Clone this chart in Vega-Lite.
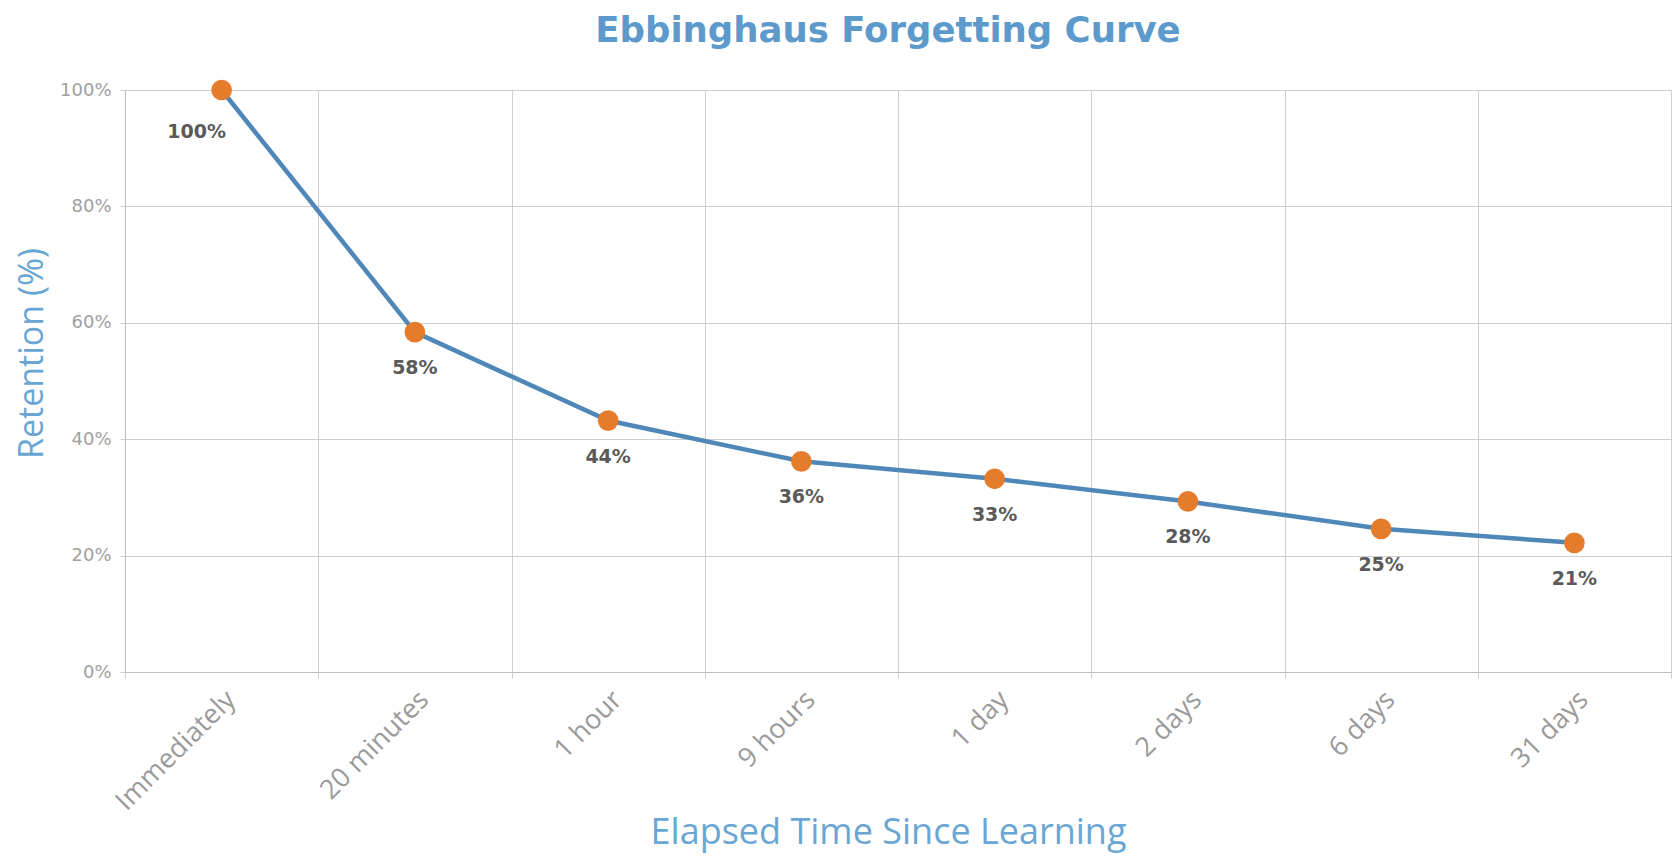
{
  "$schema": "https://vega.github.io/schema/vega-lite/v6.json",
  "width": 1546,
  "height": 582,
  "autosize": "none",
  "padding": {"left": 125, "top": 90, "right": 6, "bottom": 186},
  "background": "white",
  "config": {
    "view": {"stroke": "#cfcfcf", "strokeWidth": 1},
    "font": "Open Sans"
  },
  "title": {
    "text": "Ebbinghaus Forgetting Curve",
    "font": "DejaVu Sans",
    "fontSize": 35.5,
    "fontWeight": "bold",
    "color": "#5d9acb",
    "anchor": "middle",
    "offset": 30,
    "dx": -10
  },
  "data": {
    "values": [
      {"time": "Immediately", "retention": 100, "label": "100%"},
      {"time": "20 minutes", "retention": 58.4, "label": "58%"},
      {"time": "1 hour", "retention": 43.2, "label": "44%"},
      {"time": "9 hours", "retention": 36.2, "label": "36%"},
      {"time": "1 day", "retention": 33.2, "label": "33%"},
      {"time": "2 days", "retention": 29.3, "label": "28%"},
      {"time": "6 days", "retention": 24.6, "label": "25%"},
      {"time": "31 days", "retention": 22.2, "label": "21%"}
    ]
  },
  "encoding": {
    "x": {
      "field": "time",
      "type": "ordinal",
      "sort": null,
      "scale": {"type": "band", "paddingInner": 0, "paddingOuter": 0},
      "axis": {
        "title": "Elapsed Time Since Learning",
        "titleFont": "Open Sans",
        "titleFontSize": 36,
        "titleFontWeight": "normal",
        "titleColor": "#6aa6d3",
        "titleX": 763,
        "titleY": 160,
        "titleBaseline": "middle",
        "titleAnchor": null,
        "labelAngle": -45,
        "labelFont": "Open Sans",
        "labelFontSize": 27,
        "labelColor": "#9a9a9a",
        "labelPadding": 8,
        "tickBand": "extent",
        "grid": true,
        "gridColor": "#cfcfcf",
        "domainColor": "#bdbdbd",
        "tickColor": "#cfcfcf",
        "tickSize": 6
      }
    },
    "y": {
      "field": "retention",
      "type": "quantitative",
      "scale": {"domain": [0, 100], "nice": false},
      "axis": {
        "title": "Retention (%)",
        "titleFont": "Open Sans",
        "titleFontSize": 34,
        "titleFontWeight": "normal",
        "titleColor": "#6aa6d3",
        "titleX": -93,
        "titleY": 263,
        "titleBaseline": "middle",
        "values": [0, 20, 40, 60, 80, 100],
        "labelExpr": "datum.value + '%'",
        "labelFont": "DejaVu Sans",
        "labelFontSize": 18,
        "labelColor": "#a0a0a0",
        "labelPadding": 9,
        "grid": true,
        "gridColor": "#cfcfcf",
        "domainColor": "#bdbdbd",
        "tickColor": "#cfcfcf",
        "tickSize": 5
      }
    }
  },
  "layer": [
    {
      "mark": {"type": "line", "color": "#4f88b8", "strokeWidth": 4.5}
    },
    {
      "mark": {"type": "point", "filled": true, "color": "#e47c2c", "size": 430, "opacity": 1}
    },
    {
      "transform": [{"filter": "datum.time !== 'Immediately'"}],
      "mark": {"type": "text", "dy": 36, "font": "DejaVu Sans", "fontSize": 19, "fontWeight": "bold", "color": "#5a5a5a"},
      "encoding": {"text": {"field": "label"}}
    },
    {
      "transform": [{"filter": "datum.time === 'Immediately'"}],
      "mark": {"type": "text", "dy": 42, "dx": -25, "font": "DejaVu Sans", "fontSize": 19, "fontWeight": "bold", "color": "#5a5a5a"},
      "encoding": {"text": {"field": "label"}}
    }
  ]
}
